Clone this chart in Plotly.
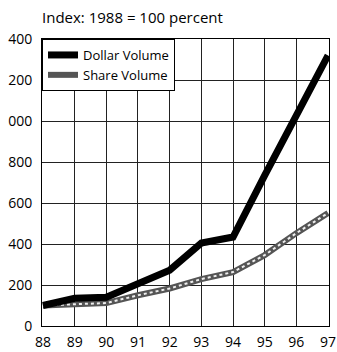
import plotly.graph_objects as go

years = [88, 89, 90, 91, 92, 93, 94, 95, 96, 97]
dollar_volume = [100, 135, 140, 210, 272, 405, 434, 735, 1020, 1320]
share_volume = [100, 107, 112, 150, 183, 229, 263, 346, 453, 551]

y_tick_values = [0, 200, 400, 600, 800, 1000, 1200, 1400]
y_tick_labels = ["0", "200", "400", "600", "800", "000", "200", "400"]
x_tick_labels = [str(y) for y in years]

FONT = "Open Sans"

fig = go.Figure()

# Share volume: dark textured band (dark base with a light dotted overlay)
fig.add_trace(go.Scatter(
    x=years, y=share_volume, mode="lines", name="Share Volume",
    line=dict(color="#555555", width=6),
))
fig.add_trace(go.Scatter(
    x=years, y=share_volume, mode="lines", showlegend=False, hoverinfo="skip",
    line=dict(color="#eeeeee", width=2, dash="dot"),
))

# Dollar volume: heavy solid black line
fig.add_trace(go.Scatter(
    x=years, y=dollar_volume, mode="lines", name="Dollar Volume",
    line=dict(color="black", width=7),
))

fig.update_layout(
    width=337, height=352,
    margin=dict(l=42, r=8, t=39, b=26),
    paper_bgcolor="white", plot_bgcolor="white",
    font=dict(family=FONT, color="black", size=14),
    showlegend=True,
    legend=dict(
        x=0, y=1, xanchor="left", yanchor="top",
        bgcolor="white", bordercolor="black", borderwidth=1,
        font=dict(family=FONT, size=13, color="black"),
        traceorder="reversed", itemwidth=30,
        tracegroupgap=0,
    ),
    annotations=[dict(
        text="Index: 1988 = 100 percent", xref="paper", yref="paper",
        x=-0.007, y=1.077, xanchor="left", yanchor="middle",
        showarrow=False, font=dict(family=FONT, size=15, color="black"),
    )],
)

fig.update_xaxes(
    range=[87.97, 97.03], tickmode="array", tickvals=years, ticktext=x_tick_labels,
    showgrid=True, gridcolor="#222", gridwidth=1,
    showline=True, linecolor="black", linewidth=1, mirror=True,
    zeroline=False, ticks="", automargin=False, ticklabelstandoff=3,
    tickfont=dict(family=FONT, size=14),
)
fig.update_yaxes(
    range=[0, 1400], tickmode="array", tickvals=y_tick_values, ticktext=y_tick_labels,
    showgrid=True, gridcolor="#222", gridwidth=1,
    showline=True, linecolor="black", linewidth=1, mirror=True,
    zeroline=False, ticks="", automargin=False, ticklabelstandoff=6,
    tickfont=dict(family=FONT, size=14),
)

fig.write_html("out.html")
